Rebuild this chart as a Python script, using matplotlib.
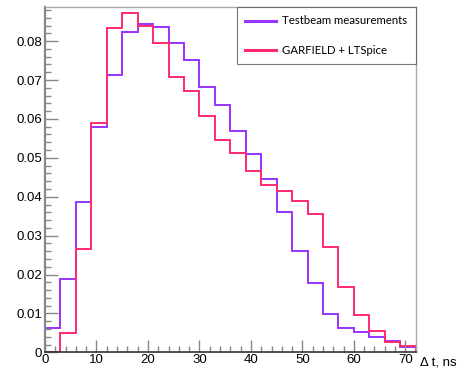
import numpy as np
import matplotlib
matplotlib.use("Agg")
from matplotlib import pyplot
from matplotlib.ticker import MultipleLocator
from matplotlib.lines import Line2D

# bin edges, ns
edges = np.arange(0, 73, 3)

testbeam = [0.0063, 0.0188, 0.0386, 0.0578, 0.0714, 0.0824, 0.0845, 0.0837,
            0.0795, 0.0752, 0.0683, 0.0635, 0.0569, 0.0511, 0.0446, 0.0360,
            0.0261, 0.0177, 0.0099, 0.0063, 0.0051, 0.0039, 0.0030, 0.0014]
garfield = [0.0, 0.0050, 0.0265, 0.0589, 0.0834, 0.0872, 0.0838, 0.0796,
            0.0708, 0.0673, 0.0608, 0.0547, 0.0513, 0.0467, 0.0430, 0.0414,
            0.0389, 0.0355, 0.0272, 0.0167, 0.0097, 0.0055, 0.0027, 0.0017]
labels = ["Testbeam measurements", "GARFIELD + LTSpice"]

purple = "#9933ff"
pink = "#ff2a6e"

fig = pyplot.figure(figsize=(4.61, 3.70), dpi=100)
ax = fig.add_axes([0.0976, 0.0478, 0.8041, 0.9325])

ax.stairs(testbeam, edges, color=purple, lw=1.4)
ax.stairs(garfield, edges, color=pink, lw=1.4)

ax.set_xlim(0, 72)
ax.set_ylim(0, 0.0887)

ax.xaxis.set_major_locator(MultipleLocator(10))
ax.xaxis.set_minor_locator(MultipleLocator(2))
ax.yaxis.set_major_locator(MultipleLocator(0.01))
ax.yaxis.set_minor_locator(MultipleLocator(0.002))
ax.yaxis.set_major_formatter(lambda v, p: "0" if v == 0 else "%.2f" % v)

ax.tick_params(which="both", direction="in", top=False, right=False,
               color="#888888", labelsize=9.5, pad=2)
ax.tick_params(which="major", length=9, width=1)
ax.tick_params(which="minor", length=4.5, width=1)
ax.tick_params(axis="x", pad=1)

for side in ("top", "right"):
    ax.spines[side].set_color("#aaaaaa")
    ax.spines[side].set_linewidth(1.0)
ax.spines["left"].set_color("#888888")
ax.spines["left"].set_linewidth(1.6)
ax.spines["bottom"].set_color("#333333")
ax.spines["bottom"].set_linewidth(1.2)

for t in ax.get_xticklabels() + ax.get_yticklabels():
    t.set_family("Liberation Sans")

fig.text(0.912, 0.02, "\u0394 t, ns", fontsize=9.5, family="Liberation Sans",
         ha="left", va="center")

handles = [Line2D([], [], color=purple, lw=2.2), Line2D([], [], color=pink, lw=2.2)]
leg = ax.legend(handles, labels, loc="upper right", bbox_to_anchor=(1.0, 1.0),
                frameon=True, fancybox=False, borderpad=0.72, labelspacing=1.6,
                handlelength=2.7, handletextpad=0.55, borderaxespad=0,
                prop={"family": "Lato", "size": 8.2})
leg.get_frame().set_edgecolor("#555555")
leg.get_frame().set_linewidth(0.8)

pyplot.savefig("out.png", dpi=100)
